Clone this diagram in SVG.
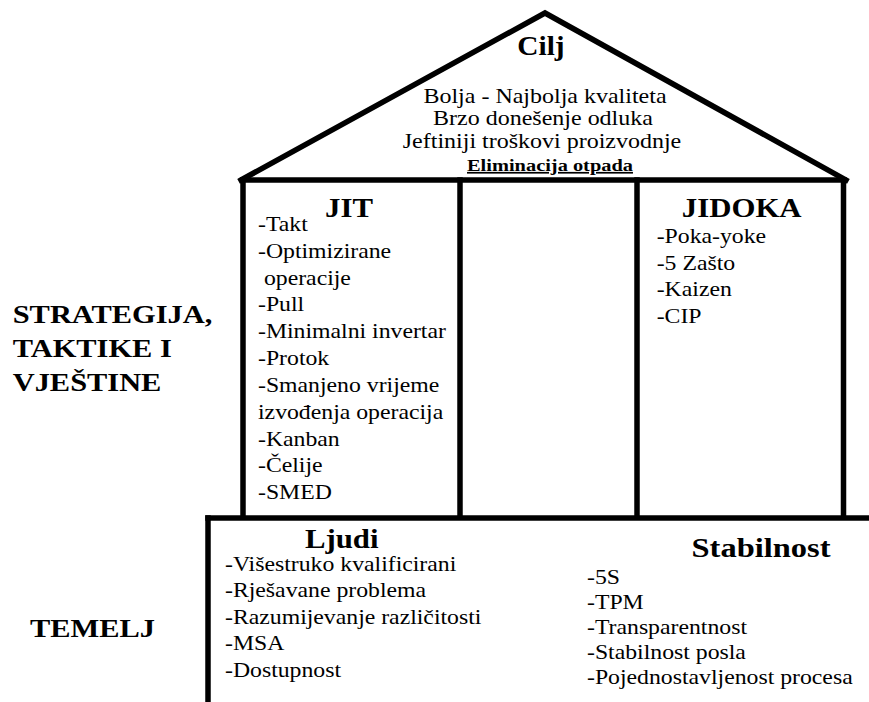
<svg xmlns="http://www.w3.org/2000/svg" width="869" height="702" viewBox="0 0 869 702">
  <style>
    .item { font-size: 22px; }
    .roof { font-size: 20px; text-anchor: middle; }
    .head { font-size: 28px; font-weight: bold; text-anchor: middle; }
    .side { font-size: 26px; font-weight: bold; }
    .line { stroke: #000; stroke-width: 5.5; fill: none; stroke-linecap: square; stroke-linejoin: miter; }
  </style>
  <rect width="869" height="702" fill="#fff"/>

  <g id="frame">
    <path class="line" d="M 241 180 L 545 13 L 846 180"/>
    <line class="line" x1="243" y1="180" x2="844" y2="180"/>
    <line class="line" x1="243" y1="180" x2="243" y2="516"/>
    <line class="line" x1="460" y1="180" x2="460" y2="516"/>
    <line class="line" x1="637" y1="180" x2="637" y2="516"/>
    <line class="line" x1="843.5" y1="180" x2="843.5" y2="516"/>
    <line class="line" x1="208" y1="518" x2="872" y2="518"/>
    <line class="line" x1="208" y1="518" x2="208" y2="705"/>
  </g>

  <g font-family="'Liberation Serif', 'Times New Roman', 'DejaVu Serif', serif" fill="#000">
  <g id="roof">
    <text class="head" transform="translate(541,55) scale(1.05,1)">Cilj</text>
    <text class="roof" transform="translate(545,102.5) scale(1.2,1)">Bolja - Najbolja kvaliteta</text>
    <text class="roof" transform="translate(543,125) scale(1.2,1)">Brzo donešenje odluka</text>
    <text class="roof" transform="translate(542,148) scale(1.2,1)">Jeftiniji troškovi proizvodnje</text>
    <text class="roof" transform="translate(550,171) scale(1.2,1)" font-weight="bold" text-decoration="underline" style="font-size:17px">Eliminacija otpada</text>
  </g>

  <g id="label-strategija">
    <text class="side" transform="translate(12.7,0) scale(1.17,1)"><tspan x="0" y="323">STRATEGIJA,</tspan><tspan x="0" y="357">TAKTIKE I</tspan><tspan x="0" y="391.5">VJEŠTINE</tspan></text>
  </g>

  <g id="label-temelj">
    <text class="side" transform="translate(30,637) scale(1.17,1)">TEMELJ</text>
  </g>

  <g id="pillar-jit">
    <text class="head" transform="translate(349,216.7) scale(1.1,1)">JIT</text>
    <g transform="translate(258,0) scale(1.08,1)">
      <text class="item">
        <tspan x="0" y="231">-Takt</tspan>
        <tspan x="0" y="257.8">-Optimizirane</tspan>
        <tspan x="5.5" y="284.7">operacije</tspan>
        <tspan x="0" y="311.5">-Pull</tspan>
        <tspan x="0" y="338.3">-Minimalni invertar</tspan>
        <tspan x="0" y="365.2">-Protok</tspan>
        <tspan x="0" y="392">-Smanjeno vrijeme</tspan>
        <tspan x="0" y="418.8">izvođenja operacija</tspan>
        <tspan x="0" y="445.6">-Kanban</tspan>
        <tspan x="0" y="472.5">-Čelije</tspan>
        <tspan x="0" y="499.3">-SMED</tspan>
      </text>
    </g>
  </g>

  <g id="pillar-middle"></g>

  <g id="pillar-jidoka">
    <text class="head" transform="translate(741.7,216.7) scale(1.1,1)">JIDOKA</text>
    <g transform="translate(656.7,0) scale(1.08,1)">
      <text class="item">
        <tspan x="0" y="243">-Poka-yoke</tspan>
        <tspan x="0" y="269.7">-5 Zašto</tspan>
        <tspan x="0" y="296.4">-Kaizen</tspan>
        <tspan x="0" y="323.1">-CIP</tspan>
      </text>
    </g>
  </g>

  <g id="foundation-ljudi">
    <text class="head" transform="translate(341.7,548.3) scale(1.1,1)">Ljudi</text>
    <g transform="translate(225,0) scale(1.08,1)">
      <text class="item">
        <tspan x="0" y="571">-Višestruko kvalificirani</tspan>
        <tspan x="0" y="597.5">-Rješavane problema</tspan>
        <tspan x="0" y="624">-Razumijevanje različitosti</tspan>
        <tspan x="0" y="650.5">-MSA</tspan>
        <tspan x="0" y="677">-Dostupnost</tspan>
      </text>
    </g>
  </g>

  <g id="foundation-stabilnost">
    <text class="head" transform="translate(761,557) scale(1.16,1)">Stabilnost</text>
    <g transform="translate(587,0) scale(1.08,1)">
      <text class="item">
        <tspan x="0" y="584">-5S</tspan>
        <tspan x="0" y="609">-TPM</tspan>
        <tspan x="0" y="634">-Transparentnost</tspan>
        <tspan x="0" y="659">-Stabilnost posla</tspan>
        <tspan x="0" y="684">-Pojednostavljenost procesa</tspan>
      </text>
    </g>
  </g>
  </g>
</svg>
